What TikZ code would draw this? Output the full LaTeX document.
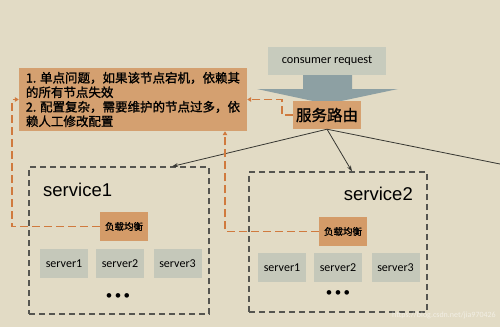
\documentclass[tikz,border=0pt]{standalone}
\usepackage{fontspec}
\setmainfont{Carlito}
\newfontfamily\cjk{Noto Sans CJK SC}
\newfontfamily\cjkb{Noto Sans CJK SC}[FakeBold=1.2]
\newfontfamily\arialf{Liberation Sans}
\usetikzlibrary{arrows.meta}
\definecolor{bg}{RGB}{226,219,197}
\definecolor{issuecol}{RGB}{212,160,112}
\definecolor{routecol}{RGB}{214,161,112}
\definecolor{lbcol}{RGB}{212,155,104}
\definecolor{greybox}{RGB}{199,203,189}
\definecolor{srvcol}{RGB}{197,200,186}
\definecolor{arrowcol}{RGB}{141,160,163}
\definecolor{orangeline}{RGB}{208,122,62}
\definecolor{dashgrey}{RGB}{85,85,80}
\definecolor{linegrey}{RGB}{55,55,50}
\tikzset{
  obox/.style={fill=issuecol, draw=none, inner sep=0pt},
  lbbox/.style={fill=lbcol, draw=none, minimum width=48pt, minimum height=29pt, inner sep=0pt,
    font=\cjkb\fontsize{9.5}{10}\selectfont},
  srvbox/.style={fill=srvcol, draw=none, minimum width=48pt, minimum height=29pt, inner sep=0pt,
    font=\fontsize{12}{12}\selectfont},
  svcbox/.style={draw=dashgrey, line width=1.1pt, dash pattern=on 6pt off 4pt, fill=none, inner sep=0pt},
  svclabel/.style={font=\arialf\fontsize{18.5}{18.5}\selectfont, inner sep=0pt, text=black},
  orng/.style={draw=orangeline, line width=1.7pt, dash pattern=on 8pt off 4pt,
    -{Triangle[length=4pt,width=4.5pt]}},
  gline/.style={draw=linegrey, line width=0.8pt, -{Stealth[length=6pt,width=4pt]}},
  dotsnode/.style={font=\fontsize{13}{13}\selectfont, inner sep=0pt}
}
\begin{document}
\begin{tikzpicture}[x=1pt,y=-1pt]
\fill[bg] (0,0) rectangle (500,327);
\useasboundingbox (0,0) rectangle (500,327);

% big arrow from consumer request to routing
\fill[arrowcol] (303,75) -- (352,75) -- (352,89) -- (398,89) -- (327,104) -- (257,89) -- (303,89) -- cycle;

\node[fill=greybox, minimum width=118pt, minimum height=28pt, inner sep=0pt,
  font=\fontsize{12.3}{12.3}\selectfont] (req) at (327,61) {consumer request};

\node[fill=routecol, minimum width=68pt, minimum height=28pt, inner sep=0pt,
  font=\cjkb\fontsize{15.5}{15.5}\selectfont] (route) at (327,115) {服务路由};

\node[obox, minimum width=228pt, minimum height=63pt, align=left,
  font=\cjkb\fontsize{12.5}{14.5}\selectfont] (issue) at (133,99.5)
  {1. 单点问题，如果该节点宕机，依赖其\\的所有节点失效\\2. 配置复杂，需要维护的节点过多，依\\赖人工修改配置};

% service 1
\node[svcbox, minimum width=180pt, minimum height=147pt] (svc1) at (119,240.5) {};
\node[svclabel, anchor=west] (svc1lab) at (43,190) {service1};
\node[lbbox] (lb1) at (124,226.5) {负载均衡};
\node[srvbox] (s11) at (64,263.5) {server1};
\node[srvbox] (s12) at (120,263.5) {server2};
\node[srvbox] (s13) at (177.5,263.5) {server3};
\node[dotsnode] (dots1) at (118,297) {•\hspace{2.5pt}•\hspace{2.5pt}•};

% service 2
\node[svcbox, minimum width=178pt, minimum height=140pt] (svc2) at (338,242) {};
\node[svclabel, anchor=east] (svc2lab) at (413,194) {service2};
\node[lbbox] (lb2) at (343,231.5) {负载均衡};
\node[srvbox] (s21) at (282,267.5) {server1};
\node[srvbox] (s22) at (338,267.5) {server2};
\node[srvbox] (s23) at (395.5,267.5) {server3};
\node[dotsnode] (dots2) at (338,294) {•\hspace{2.5pt}•\hspace{2.5pt}•};

% grey arrows from routing
\coordinate (offr) at (500,164);
\draw[gline] (route.south) -- ([xshift=53pt]svc1.north);
\draw[gline] (route.south) -- ([xshift=14pt]svc2.north);
\draw[draw=linegrey, line width=0.8pt] (route.south) -- (offr);

% orange dashed feedback
\draw[orng] (lb1.west) -- ++(-88,0) |- (issue.west);
\draw[orng] (lb2.west) -| ([xshift=92pt]issue.south);
\draw[orng] (route.west) -- ++(-11,0) |- (issue.east);

% watermark
\node[font=\fontsize{8}{8}\selectfont, text=white, opacity=0.55, anchor=east, inner sep=0pt] (wm) at (496,315) {https://blog.csdn.net/jia970426};
\end{tikzpicture}
\end{document}
